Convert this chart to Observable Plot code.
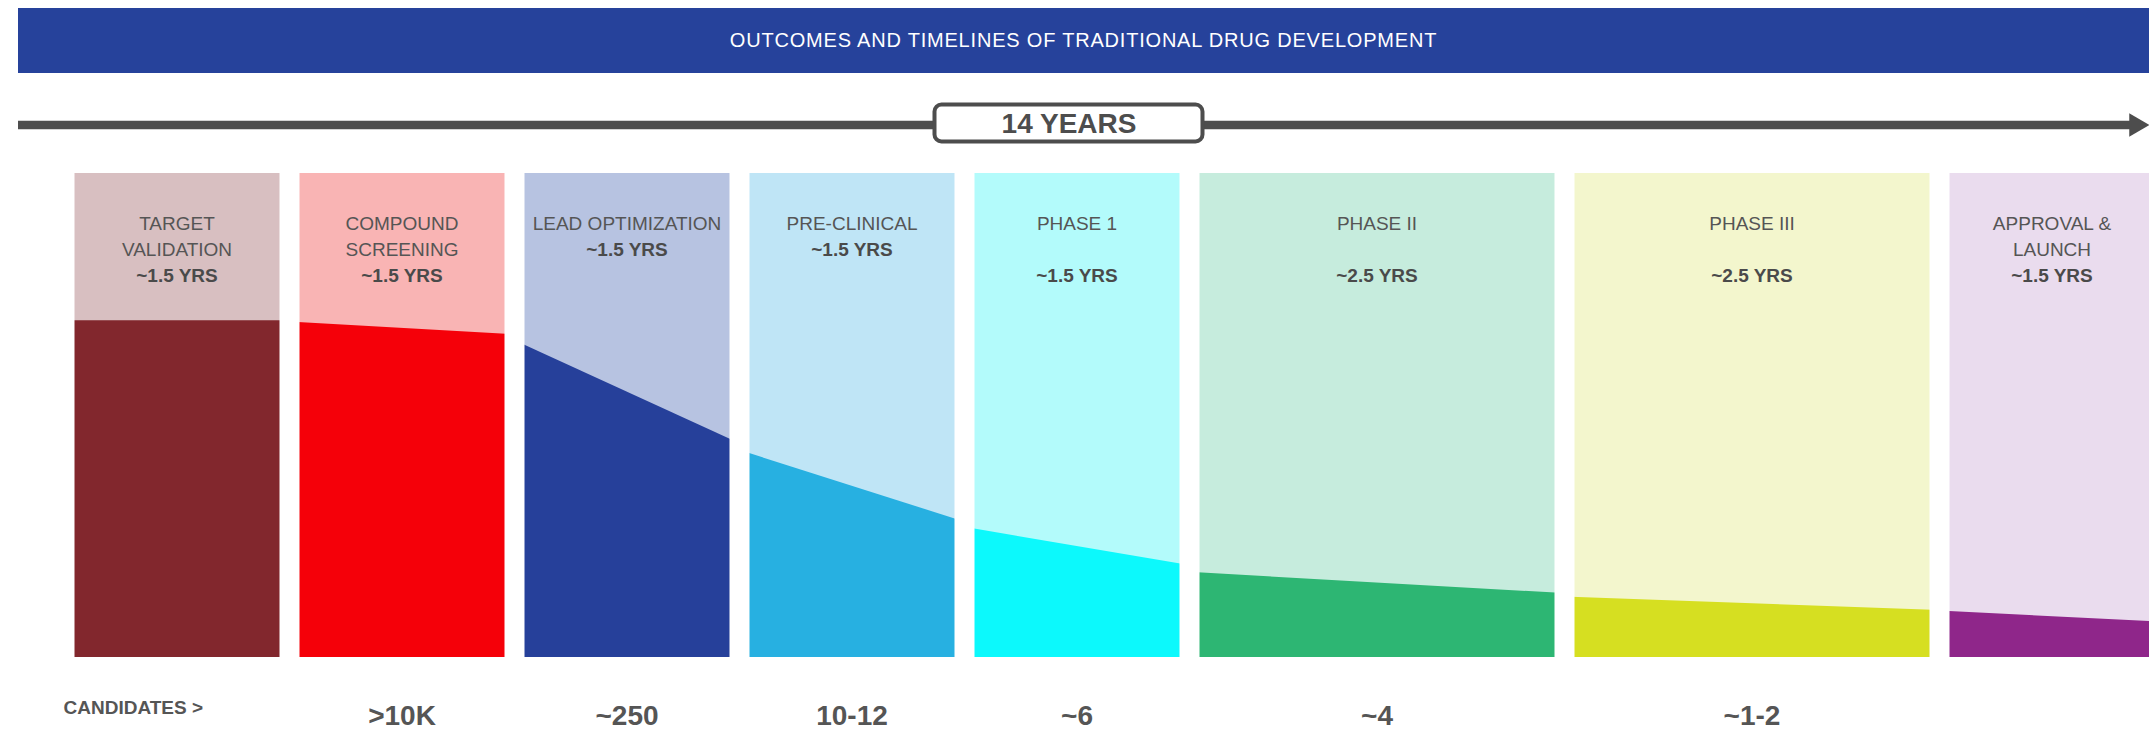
<!DOCTYPE html>
<html>
<head>
<meta charset="utf-8">
<script src="https://cdn.jsdelivr.net/npm/d3@7"></script>
<script src="https://cdn.jsdelivr.net/npm/@observablehq/plot@0.6"></script>
<style>
html, body { margin: 0; padding: 0; background: #fff; overflow: hidden; }
#title {
  margin: 8px 0 0 18px; width: 2131px; height: 65px;
  background: #26429b; color: #fff;
  font: 20px "Liberation Sans", Arial, sans-serif; letter-spacing: 0.8px;
  line-height: 65px; text-align: center;
}
#chart svg { display: block; }
</style>
</head>
<body>
<div id="title">OUTCOMES AND TIMELINES OF TRADITIONAL DRUG DEVELOPMENT</div>
<div id="chart"></div>
<script>
// ---- data ----
const stages = ["TARGET VALIDATION", "COMPOUND SCREENING", "LEAD OPTIMIZATION", "PRE-CLINICAL",
                "PHASE 1", "PHASE II", "PHASE III", "APPROVAL & LAUNCH"];
const stageLabels = ["TARGET\nVALIDATION", "COMPOUND\nSCREENING", "LEAD OPTIMIZATION", "PRE-CLINICAL",
                     "PHASE 1\n", "PHASE II\n", "PHASE III\n", "APPROVAL &\nLAUNCH"];
const durationYears = [1.5, 1.5, 1.5, 1.5, 1.5, 2.5, 2.5, 1.5];
const durationLabels = ["~1.5 YRS", "~1.5 YRS", "~1.5 YRS", "~1.5 YRS", "~1.5 YRS", "~2.5 YRS", "~2.5 YRS", "~1.5 YRS"];
const candidateCounts = [null, ">10K", "~250", "10-12", "~6", "~4", "~1-2", null];
const candidatesTitle = "CANDIDATES >";
// remaining pipeline (% of column height) at entry / exit of each stage
const pipelineIn  = [69.6, 69.3, 65.5, 42.8, 26.9, 17.6, 12.5, 9.6];
const pipelineOut = [69.6, 66.7, 44.2, 28.0, 19.0, 13.2, 9.7, 7.3];
const pipelineMax = 100;
const darkColors  = ["#82272d", "#f50009", "#26409a", "#27b0e1", "#0cf9fc", "#2db673", "#d6df21", "#8f268a"];
const lightColors = ["#d8bfc1", "#f9b4b4", "#b7c3e1", "#bfe5f6", "#b3fbfb", "#c6ecdd", "#f3f6cd", "#eadcee"];

// ---- derived table ----
const totalYears = d3.sum(durationYears);
const ends = Array.from(d3.cumsum(durationYears));
const table = stages.map((stage, i) => ({
  stage,
  label: stageLabels[i],
  years: durationLabels[i],
  candidates: candidateCounts[i],
  start: ends[i] - durationYears[i],
  end: ends[i],
  from: pipelineIn[i],
  to: pipelineOut[i]
}));
const funnel = table.flatMap(d => [
  {stage: d.stage, x: d.start, y: d.from},
  {stage: d.stage, x: d.end, y: d.to}
]);
const mid = d => (d.start + d.end) / 2;
const LH = 25.8 / 19;

const chart = Plot.plot({
  width: 2149,
  height: 657,
  marginTop: 100,
  marginBottom: 73,
  marginLeft: 18,
  marginRight: 0,
  x: {domain: [0, totalYears], range: [64, 2164], axis: null},
  y: {domain: [0, pipelineMax], axis: null},
  color: {
    type: "ordinal",
    domain: [...stages.map(s => "bg:" + s), ...stages],
    range: [...lightColors, ...darkColors]
  },
  style: {fontFamily: '"Liberation Sans", Arial, sans-serif', background: "white", overflow: "hidden"},
  marks: [
    // stage columns
    Plot.rect(table, {x1: "start", x2: "end", fill: d => "bg:" + d.stage}),
    // surviving candidates funnel
    Plot.area(funnel, {x1: "x", y1: () => 0, y2: "y", z: "stage", fill: "stage"}),
    // gaps between columns
    Plot.ruleX([0, ...ends], {stroke: "white", strokeWidth: 20}),
    // stage names
    Plot.text(table, {
      x: mid, frameAnchor: "top", text: "label", lineAnchor: "top", lineHeight: LH,
      fontSize: 19, fill: "#555", dy: 38.5
    }),
    // durations
    Plot.text(table, {
      x: mid, frameAnchor: "top", text: d => "\n".repeat(d.label.split("\n").length) + d.years,
      lineAnchor: "top", lineHeight: LH, fontSize: 19, fontWeight: "bold", fill: "#4a4a4a", dy: 38.5
    }),
    // candidate counts
    Plot.text(table.filter(d => d.candidates), {
      x: mid, frameAnchor: "bottom", lineAnchor: "middle", text: "candidates",
      fontSize: 28, fontWeight: "bold", fill: "#555", dy: 59
    }),
    Plot.text([candidatesTitle], {
      x: () => table[0].start, frameAnchor: "bottom", lineAnchor: "middle", text: d => d, textAnchor: "start",
      fontSize: 19, fontWeight: "bold", fill: "#555", dx: -1, dy: 50.7
    }),
    // timeline arrow
    Plot.ruleY([pipelineMax], {stroke: "#4d4d4d", strokeWidth: 8.5, dy: -48.5, insetRight: 14}),
    Plot.dot([totalYears], {
      frameAnchor: "top-right", symbol: "triangle", r: 8.7, rotate: 90,
      fill: "#4d4d4d", dx: -13.5, dy: -48.5
    }),
    Plot.frame({
      fill: "white", stroke: "#4d4d4d", strokeWidth: 4, rx: 7,
      insetLeft: 916, insetRight: 947, insetTop: -69, insetBottom: 516
    }),
    Plot.text([`${totalYears} YEARS`], {
      frameAnchor: "top", lineAnchor: "middle", text: d => d, fontSize: 28, fontWeight: "bold",
      fill: "#4d4d4d", dx: -15, dy: -49
    })
  ]
});
document.getElementById("chart").appendChild(chart);
</script>
</body>
</html>
